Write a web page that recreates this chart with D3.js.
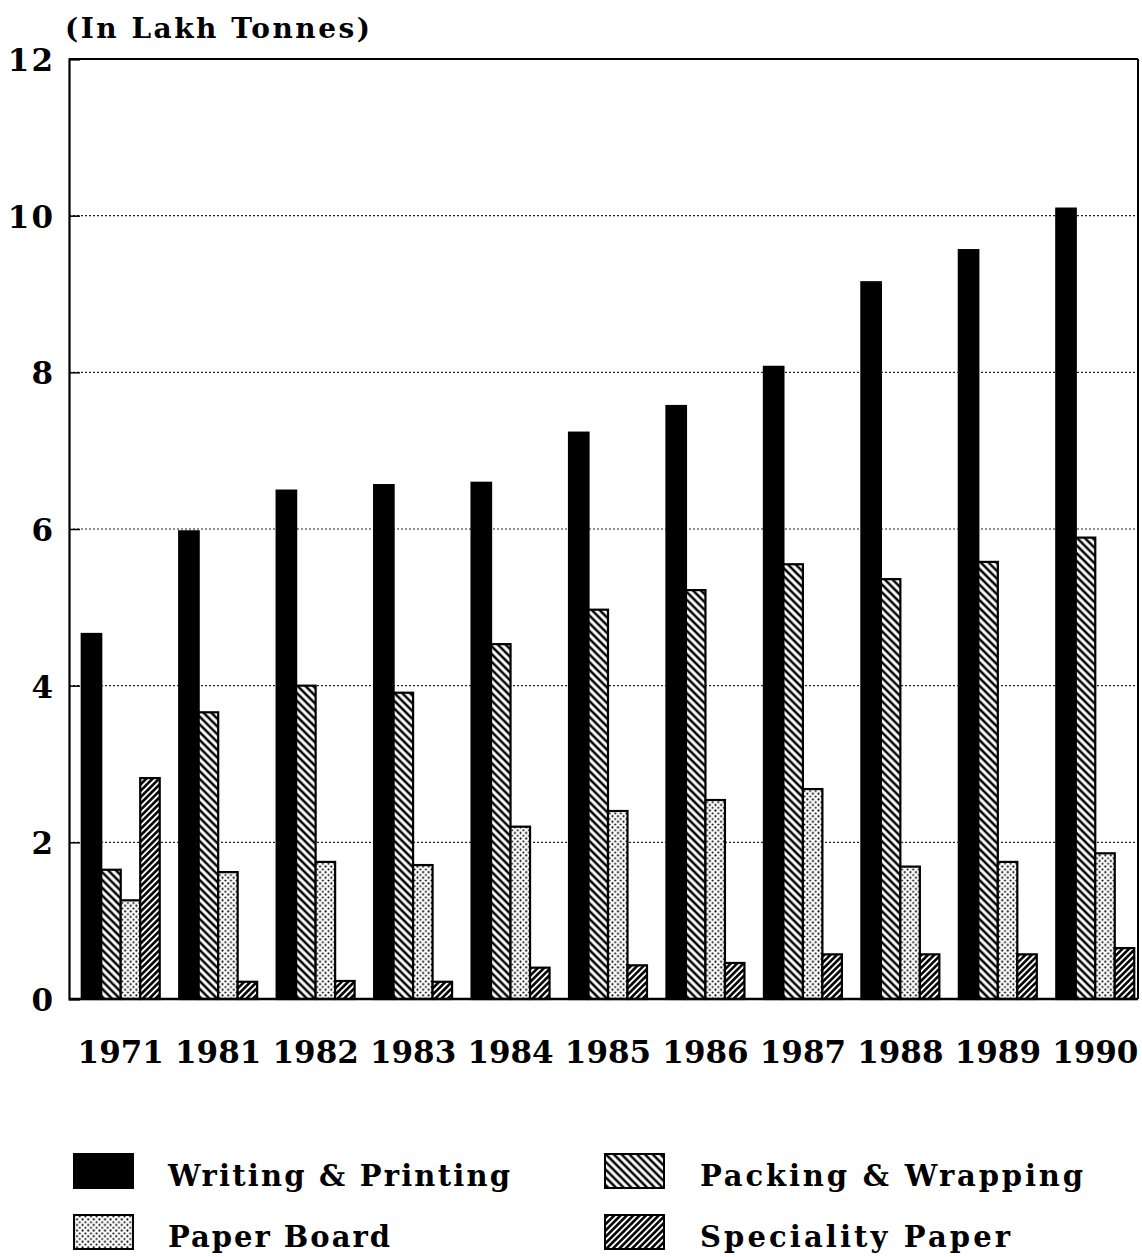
<!DOCTYPE html>
<html><head><meta charset="utf-8">
<script src="https://cdn.jsdelivr.net/npm/d3@7"></script>
<style>body{margin:0;background:#fff}svg{display:block}</style>
</head><body>
<svg id="chart" width="1142" height="1257"></svg>
<script>
const years = ["1971","1981","1982","1983","1984","1985","1986","1987","1988","1989","1990"];
const seriesNames = ["Writing & Printing","Packing & Wrapping","Paper Board","Speciality Paper"];
const writingPrinting = [4.66,5.97,6.49,6.56,6.59,7.23,7.57,8.07,9.15,9.56,10.09];
const packingWrapping = [1.65,3.66,4.00,3.91,4.53,4.97,5.22,5.55,5.36,5.58,5.89];
const paperBoard      = [1.26,1.62,1.75,1.71,2.20,2.40,2.54,2.68,1.69,1.75,1.86];
const specialityPaper = [2.82,0.22,0.23,0.22,0.40,0.43,0.46,0.57,0.57,0.57,0.65];
const yTicks = [0,2,4,6,8,10,12];
const unitLabel = "(In Lakh Tonnes)";

const seriesValues = [writingPrinting, packingWrapping, paperBoard, specialityPaper];
const fills = ["#000", "url(#pPack)", "url(#pBoard)", "url(#pSpec)"];

const svg = d3.select("#chart");
const defs = svg.append("defs");

// Patterns
const pPack = defs.append("pattern").attr("id","pPack").attr("patternUnits","userSpaceOnUse")
  .attr("width",5.5).attr("height",5.5).attr("patternTransform","rotate(-45)");
pPack.append("rect").attr("width",5.5).attr("height",5.5).attr("fill","#fff");
pPack.append("line").attr("x1",2.75).attr("x2",2.75).attr("y1",0).attr("y2",5.5).attr("stroke","#000").attr("stroke-width",2.5);

const pSpec = defs.append("pattern").attr("id","pSpec").attr("patternUnits","userSpaceOnUse")
  .attr("width",4.5).attr("height",4.5).attr("patternTransform","rotate(45)");
pSpec.append("rect").attr("width",4.5).attr("height",4.5).attr("fill","#fff");
pSpec.append("line").attr("x1",2.25).attr("x2",2.25).attr("y1",0).attr("y2",4.5).attr("stroke","#000").attr("stroke-width",2.6);

const pBoard = defs.append("pattern").attr("id","pBoard").attr("patternUnits","userSpaceOnUse")
  .attr("width",5.6).attr("height",5.6);
pBoard.append("rect").attr("width",5.6).attr("height",5.6).attr("fill","#fff");
pBoard.append("circle").attr("cx",1.4).attr("cy",1.4).attr("r",1.05).attr("fill","#000");
pBoard.append("circle").attr("cx",4.2).attr("cy",4.2).attr("r",1.05).attr("fill","#000");

const plotL = 69, plotR = 1138, plotT = 59, plotB = 999;

const x = d3.scaleBand().domain(years).range([72,1144]).paddingInner(0.2).paddingOuter(0.1);
const xs = d3.scaleBand().domain(d3.range(4)).range([0, x.bandwidth()]);
const y = d3.scaleLinear().domain([0,12]).range([plotB, plotT]);

// gridlines (dotted)
svg.append("g").selectAll("line").data(yTicks.filter(t => t > 0 && t < 12)).join("line")
  .attr("x1", plotL).attr("x2", plotR)
  .attr("y1", d => y(d)).attr("y2", d => y(d))
  .attr("stroke","#222").attr("stroke-width",1.2).attr("stroke-dasharray","2,2");

// bars
const groups = svg.append("g").selectAll("g").data(years).join("g")
  .attr("transform", d => `translate(${x(d)},0)`);
groups.selectAll("rect").data((d,i) => seriesValues.map((s,k) => ({k, v: s[i]}))).join("rect")
  .attr("x", d => xs(d.k)).attr("width", xs.bandwidth())
  .attr("y", d => y(d.v)).attr("height", d => y(0) - y(d.v))
  .attr("fill", d => fills[d.k]).attr("stroke","#000").attr("stroke-width",2.2);

// frame
svg.append("line").attr("x1",plotL).attr("x2",plotR).attr("y1",plotT).attr("y2",plotT).attr("stroke","#000").attr("stroke-width",2);
svg.append("line").attr("x1",plotR).attr("x2",plotR).attr("y1",plotT).attr("y2",plotB).attr("stroke","#000").attr("stroke-width",2);
svg.append("line").attr("x1",plotL).attr("x2",plotR).attr("y1",plotB).attr("y2",plotB).attr("stroke","#000").attr("stroke-width",2.5);

// y axis
const yAxis = d3.axisRight(y).tickValues(yTicks).tickSize(11).tickFormat("");
const gy = svg.append("g").attr("transform",`translate(${plotL},0)`).call(yAxis);
gy.select(".domain").attr("stroke","#000").attr("stroke-width",2.2);
gy.selectAll(".tick line").attr("stroke","#000").attr("stroke-width",1.5);

svg.append("g").selectAll("text").data(yTicks).join("text")
  .attr("x", 55).attr("y", d => y(d) + 12)
  .attr("text-anchor","end")
  .attr("font-family","'DejaVu Serif', serif").attr("font-weight","bold").attr("font-size",31)
  .attr("letter-spacing",2)
  .text(d => d);

// x labels
const xAxis = d3.axisBottom(x).tickSize(0).tickPadding(0);
const gx = svg.append("g").attr("transform",`translate(0,${plotB})`).call(xAxis);
gx.select(".domain").remove();
gx.selectAll(".tick text")
  .attr("dy", 0).attr("y", 64)
  .attr("font-family","'DejaVu Serif', serif").attr("font-weight","bold").attr("font-size",31)
  .attr("fill","#000");

// unit label
svg.append("text").attr("x",65).attr("y",38)
  .attr("font-family","'DejaVu Serif', serif").attr("font-weight","bold").attr("font-size",28)
  .attr("textLength",305).attr("lengthAdjust","spacing")
  .text(unitLabel);

// legend
const legendPos = [
  {sx:74, sy:1154, tx:168, ty:1186, w:342},
  {sx:605, sy:1154, tx:700, ty:1186, w:383},
  {sx:74, sy:1215, tx:168, ty:1247, w:222},
  {sx:605, sy:1215, tx:700, ty:1247, w:310}
];
const legendOrder = [0,1,2,3];
const leg = svg.append("g").selectAll("g").data(legendOrder).join("g");
leg.append("rect")
  .attr("x", k => legendPos[k].sx).attr("y", k => legendPos[k].sy)
  .attr("width",59).attr("height",34)
  .attr("fill", k => fills[k]).attr("stroke","#000").attr("stroke-width",2);
leg.append("text")
  .attr("x", k => legendPos[k].tx).attr("y", k => legendPos[k].ty)
  .attr("font-family","'DejaVu Serif', serif").attr("font-weight","bold").attr("font-size",29)
  .attr("textLength", k => legendPos[k].w).attr("lengthAdjust","spacing")
  .attr("fill","#000")
  .text(k => seriesNames[k]);
</script>
</body></html>
